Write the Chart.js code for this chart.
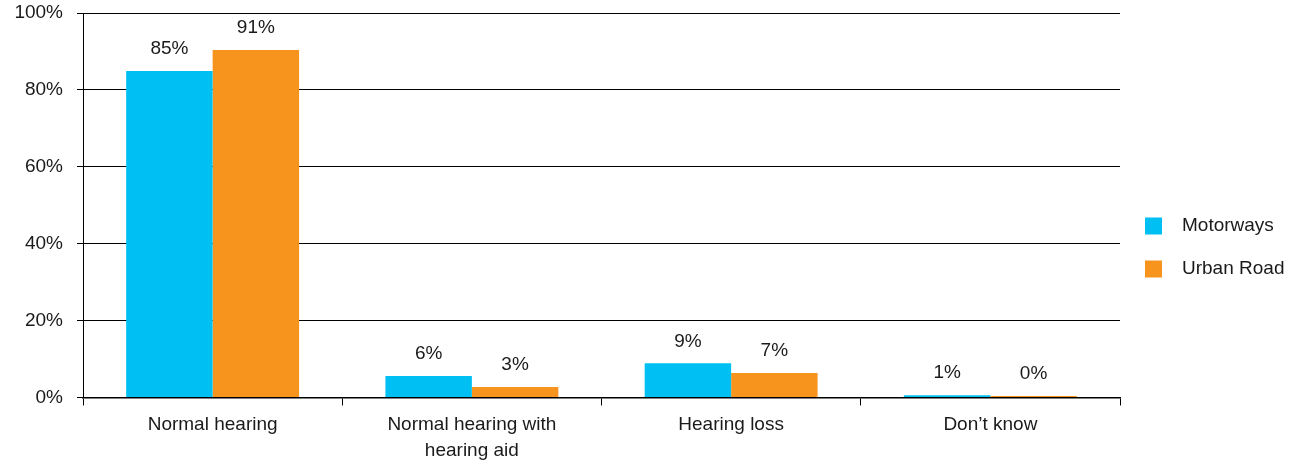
<!DOCTYPE html>
<html>
<head>
<meta charset="utf-8">
<script src="https://cdn.jsdelivr.net/npm/chart.js@4"></script>
<style>
  html, body { margin: 0; padding: 0; background: #fff; }
  #wrap { width: 1311px; height: 466px; }
</style>
</head>
<body>
<div id="wrap"><canvas id="grafico" width="1311" height="466"></canvas></div>
<script>
const categorias = [
    "Normal hearing",
    ["Normal hearing with", "hearing aid"],
    "Hearing loss",
    "Don\u2019t know"
];
const motorways = [84.9, 5.6, 8.9, 0.6];
const urbanRoad = [90.4, 2.7, 6.4, 0.4];
const motorwaysTexto = ["85%", "6%", "9%", "1%"];
const urbanRoadTexto = ["91%", "3%", "7%", "0%"];
const ticksY = [0, 20, 40, 60, 80, 100];

const fuente = '"Liberation Sans", Arial, Helvetica, sans-serif';
const colorTexto = '#1a1a1a';

// etiquetas encima de cada barra
const etiquetas = {
    id: 'etiquetas',
    afterDatasetsDraw(chart) {
        const ctx = chart.ctx;
        ctx.save();
        ctx.font = '19px ' + fuente;
        ctx.fillStyle = colorTexto;
        ctx.textAlign = 'center';
        ctx.textBaseline = 'middle';
        chart.data.datasets.forEach(function(ds, i){
            chart.getDatasetMeta(i).data.forEach(function(bar, j){
                ctx.fillText(ds.textos[j], bar.x, bar.y - 22);
            });
        });
        ctx.restore();
    }
};

// leyenda a la derecha
const leyenda = {
    id: 'leyenda',
    afterDraw(chart) {
        const ctx = chart.ctx;
        const x = chart.chartArea.right + 25;
        ctx.save();
        ctx.font = '19px ' + fuente;
        ctx.textBaseline = 'middle';
        ctx.textAlign = 'left';
        chart.data.datasets.forEach(function(ds, i){
            const y = 226 + i * 43;
            ctx.fillStyle = ds.backgroundColor;
            ctx.fillRect(x, y - 8.5, 17, 17);
            ctx.fillStyle = colorTexto;
            ctx.fillText(ds.label, x + 37, y);
        });
        ctx.restore();
    }
};

new Chart(document.getElementById('grafico'), {
    type: 'bar',
    plugins: [etiquetas, leyenda],
    data: {
        labels: categorias,
        datasets: [
            { label: 'Motorways', data: motorways, textos: motorwaysTexto, backgroundColor: '#00C0F3' },
            { label: 'Urban Road', data: urbanRoad, textos: urbanRoadTexto, backgroundColor: '#F7941E' }
        ]
    },
    options: {
        responsive: false,
        animation: false,
        devicePixelRatio: 1,
        layout: { padding: { top: 13, right: 191, left: 0, bottom: 0 } },
        datasets: { bar: { categoryPercentage: 0.667, barPercentage: 1.0, borderWidth: 0 } },
        plugins: {
            legend: { display: false },
            tooltip: { enabled: false }
        },
        scales: {
            x: {
                offset: true,
                grid: {
                    offset: true,
                    drawOnChartArea: false,
                    drawTicks: true,
                    tickLength: 8,
                    color: '#000',
                    tickColor: '#000'
                },
                border: { color: '#000', width: 1.5 },
                ticks: {
                    color: colorTexto,
                    padding: 6,
                    maxRotation: 0,
                    autoSkip: false,
                    font: { family: fuente, size: 19, lineHeight: 1.38 }
                },
                afterFit(scale) {
                    scale.height = 466 - 397.5;
                    scale.paddingLeft = 0;
                    scale.paddingRight = 0;
                }
            },
            y: {
                min: 0,
                max: 100,
                afterBuildTicks(scale) { scale.ticks = ticksY.map(v => ({ value: v })); },
                grid: {
                    color: '#000',
                    tickColor: '#000',
                    tickLength: 6,
                    lineWidth: 1
                },
                border: { color: '#000', width: 1 },
                ticks: {
                    color: colorTexto,
                    padding: 14,
                    font: { family: fuente, size: 19 },
                    callback: function(v){ return v + '%'; }
                },
                afterFit(scale) {
                    scale.width = 83;
                    scale.paddingTop = 0;
                    scale.paddingBottom = 0;
                }
            }
        }
    }
});
</script>
</body>
</html>
